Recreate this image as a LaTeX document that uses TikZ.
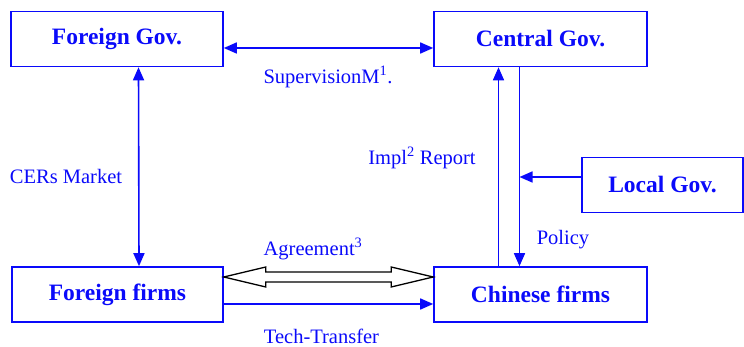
\documentclass[tikz,border=0pt]{standalone}
\usepackage{fontspec}
\setmainfont{Liberation Serif}
\usetikzlibrary{arrows.meta,positioning}
\definecolor{myblue}{RGB}{10,10,250}

\begin{document}
\begin{tikzpicture}[x=1pt,y=1pt,>={Triangle[length=13pt,width=11pt]},line width=1.6pt,myblue]
  \tikzstyle{box}=[draw=myblue,line width=1.6pt,minimum height=55pt,inner sep=0pt,
    text=myblue,font=\fontsize{23.5}{26}\selectfont\bfseries]
  \tikzstyle{lbl}=[text=myblue,inner sep=0pt,font=\fontsize{20.5}{23}\selectfont]
  \useasboundingbox (0,0) rectangle (744,347);

  \node[box,minimum width=212pt] (FG) at (117,308)   {Foreign Gov.};
  \node[box,minimum width=213pt] (CG) at (540.5,308) {Central Gov.};
  \node[box,minimum width=161pt] (LG) at (662.5,162) {Local Gov.};
  \node[box,minimum width=211pt] (FF) at (117.5,52.5) {Foreign firms};
  \node[box,minimum width=213pt] (CF) at (540.5,52.5) {Chinese firms};

  \node[lbl] (sup)  at (328,270)   {SupervisionM\textsuperscript{1}.};
  \node[lbl] (cer)  at (66,171)    {CERs Market};
  \node[lbl] (impl) at (422,189)   {Impl\textsuperscript{2} Report};
  \node[lbl] (agr)  at (313,98)    {Agreement\textsuperscript{3}};
  \node[lbl] (pol)  at (563,107)   {Policy};
  \node[lbl] (tech) at (321.5,11)  {Tech-Transfer};

  \coordinate (J) at (519.5,170);

  \draw[<->] ([yshift=-9pt]FG.east) -- ([yshift=-9pt]CG.west);
  \draw[<->] ([xshift=21.5pt]FG.south) -- ([xshift=21.5pt]FF.north);
  \draw[->] ([xshift=-42pt]CF.north) -- ([xshift=-42pt]CG.south);
  \draw[->] ([xshift=-21pt]CG.south) -- ([xshift=-21pt]CF.north);
  \draw[->] ([yshift=8pt]LG.west) -- (J);
  \draw[->] ([yshift=-9.5pt]FF.east) -- ([yshift=-9.5pt]CF.west);

  % hollow double arrow
  \draw[black,line width=1.3pt,line join=miter]
    ([yshift=17.5pt]FF.east) -- ++(42,10) -- ++(0,-5)
    -- ([xshift=-42pt,yshift=22.5pt]CF.west) -- ++(0,5)
    -- ([yshift=17.5pt]CF.west) -- ++(-42,-10) -- ++(0,5)
    -- ([xshift=42pt,yshift=12.5pt]FF.east) -- ++(0,-5) -- cycle;
\end{tikzpicture}
\end{document}
